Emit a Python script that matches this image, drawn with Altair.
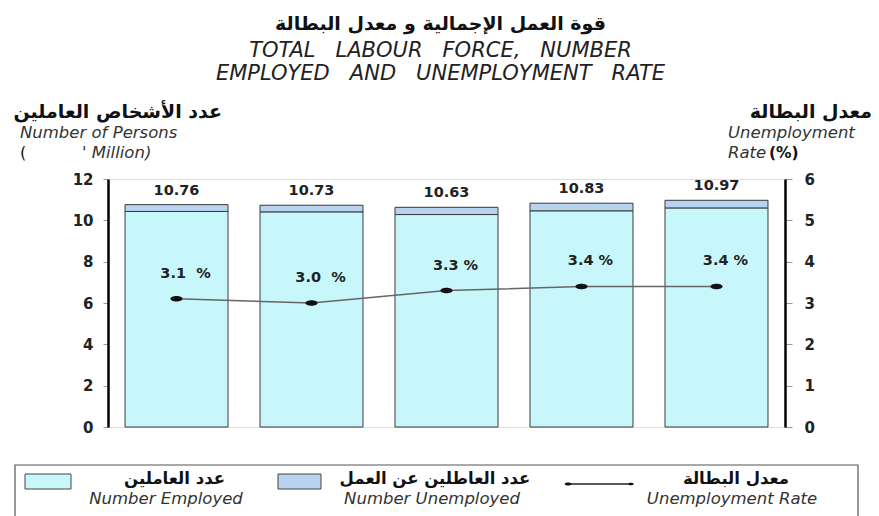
import altair as alt
import pandas as pd

# ---------------- data ----------------
periods = ["2006 Q3", "2006 Q4", "2006", "2007 Q1", "2007 Q2"]
employed = [10.43, 10.41, 10.28, 10.46, 10.60]
unemployed = [0.33, 0.32, 0.35, 0.37, 0.37]
totals = [10.76, 10.73, 10.63, 10.83, 10.97]
rates = [3.1, 3.0, 3.3, 3.4, 3.4]
NB = "\u00a0"
rate_labels = ["3.1" + NB * 2 + "%", "3.0" + NB * 2 + "%", "3.3 %", "3.4 %", "3.4 %"]

left_ticks = [0, 2, 4, 6, 8, 10, 12]
right_ticks = [0, 1, 2, 3, 4, 5, 6]

series_keys = ["Employed", "Unemployed"]
legend_ar = ["عدد العاملين", "عدد العاطلين عن العمل", "معدل البطالة"]
legend_en = ["Number Employed", "Number Unemployed", "Unemployment Rate"]

title_ar = "قوة العمل الإجمالية و معدل البطالة"
title_en_words = [["TOTAL", "LABOUR", "FORCE,", "NUMBER"], ["EMPLOYED", "AND", "UNEMPLOYMENT", "RATE"]]
title_en = [(NB * 3).join(w) for w in title_en_words]

COL_EMP = "#c8f7fb"
COL_UNEMP = "#b8d3f0"
AR_FONT = "DejaVu Sans"
NUM_FONT = "DejaVu Sans"
EN_FONT = "DejaVu Sans"

df = pd.DataFrame({
    "period": periods,
    "total": totals,
    "rate": rates,
    "rate_label": rate_labels,
})
long = pd.concat([
    pd.DataFrame({"period": periods, "value": employed, "type": series_keys[0], "ord": 0}),
    pd.DataFrame({"period": periods, "value": unemployed, "type": series_keys[1], "ord": 1}),
])

xenc = alt.X(
    "period:N", sort=periods, title=None,
    scale=alt.Scale(paddingInner=0.237, paddingOuter=0.126),
    axis=alt.Axis(domain=False, ticks=False, labelAngle=0, labelFont=NUM_FONT,
                  labelFontWeight="bold", labelFontSize=15.5, labelColor="#222",
                  labelPadding=8),
)
xplain = alt.X("period:N", sort=periods, axis=None)

bars = alt.Chart(long).mark_bar(stroke="#3a3a3a", strokeWidth=1).encode(
    x=xenc,
    y=alt.Y("value:Q", stack="zero", title=None,
            scale=alt.Scale(domain=[0, 12], nice=False),
            axis=alt.Axis(values=left_ticks, grid=False, domainColor="#000",
                          domainWidth=2.5, tickColor="#999", tickSize=5,
                          labelFont=NUM_FONT, labelFontWeight="bold",
                          labelFontSize=15, labelColor="#222", labelPadding=10)),
    color=alt.Color("type:N", scale=alt.Scale(domain=series_keys, range=[COL_EMP, COL_UNEMP]),
                    legend=None),
    order=alt.Order("ord:Q"),
)

tot_text = alt.Chart(df).mark_text(
    baseline="bottom", dy=-7, font=NUM_FONT, fontWeight="bold", fontSize=14.5, color="#222"
).encode(
    x=xplain,
    y=alt.Y("total:Q"),
    text=alt.Text("total:Q", format=".2f"),
)

left = alt.layer(bars, tot_text)

yr = alt.Y("rate:Q", title=None, scale=alt.Scale(domain=[0, 6], nice=False),
           axis=alt.Axis(orient="right", values=right_ticks, grid=False, domainColor="#000",
                         domainWidth=2.5, tickColor="#999", tickSize=7,
                         labelFont=NUM_FONT, labelFontWeight="bold", labelFontSize=15,
                         labelColor="#222", labelPadding=12))

rate_line = alt.Chart(df).mark_line(color="#666", strokeWidth=1.5).encode(x=xplain, y=yr)

oval = "M-1,0 A1,0.45 0 1,1 1,0 A1,0.45 0 1,1 -1,0 Z"
rate_pts = alt.Chart(df).mark_point(shape=oval, filled=True, color="#111", size=150, opacity=1).encode(
    x=xplain, y=alt.Y("rate:Q"))

rate_text = alt.Chart(df).mark_text(
    baseline="middle", dy=-25, dx=9, font=NUM_FONT, fontWeight="bold", fontSize=14.5, color="#222"
).encode(x=xplain, y=alt.Y("rate:Q"), text="rate_label:N")

right = alt.layer(rate_line, rate_pts, rate_text)

OX, OY = 108, 179  # plot origin in page pixels


def txt(s, ax, ay, align="left", size=15, weight="normal", style="normal", font=EN_FONT, color="#222"):
    return alt.Chart(alt.Data(values=[{"t": s}])).mark_text(
        align=align, baseline="middle", fontSize=size, fontWeight=weight,
        fontStyle=style, font=font, color=color
    ).encode(x=alt.value(ax - OX), y=alt.value(ay - OY), text="t:N")


def box(x1, y1, x2, y2, fill, stroke="#444", sw=1):
    return alt.Chart(alt.Data(values=[{"t": 1}])).mark_rect(
        fill=fill, stroke=stroke, strokeWidth=sw
    ).encode(x=alt.value(x1 - OX), x2=alt.value(x2 - OX),
             y=alt.value(y1 - OY), y2=alt.value(y2 - OY))


def dot(ax, ay, size):
    return alt.Chart(alt.Data(values=[{"t": 1}])).mark_point(
        shape=oval, filled=True, color="#111", size=size, opacity=1
    ).encode(x=alt.value(ax - OX), y=alt.value(ay - OY))


annotations = [
    # axis titles
    txt("عدد الأشخاص العاملين", 222, 112, align="right", size=19, weight="bold", font=AR_FONT, color="#111"),
    txt("Number of Persons", 20, 133, size=16.5, style="italic", color="#333"),
    txt("(", 20, 153, size=16, color="#111"),
    txt("' Million)", 82, 153, size=16.5, style="italic", color="#333"),
    txt("معدل البطالة", 872, 112, align="right", size=19, weight="bold", font=AR_FONT, color="#111"),
    txt("Unemployment", 728, 133, size=16.5, style="italic", color="#333"),
    txt("Rate", 728, 153, size=16.5, style="italic", color="#333"),
    txt("(%)", 769, 153, size=15.5, weight="bold", color="#111"),
    # legend
    box(15, 465, 858, 530, "transparent", stroke="#555", sw=1.2),
    box(25, 474, 71, 489, COL_EMP),
    box(278, 474, 321, 489, COL_UNEMP),
    txt(legend_ar[0], 225, 479, align="right", size=16.5, weight="bold", font=AR_FONT, color="#111"),
    txt(legend_en[0], 166, 499, align="center", size=16.5, style="italic", color="#333"),
    txt(legend_ar[1], 435, 479, align="center", size=16.5, weight="bold", font=AR_FONT, color="#111"),
    txt(legend_en[1], 432, 499, align="center", size=16.5, style="italic", color="#333"),
    txt(legend_ar[2], 736, 479, align="center", size=16.5, weight="bold", font=AR_FONT, color="#111"),
    txt(legend_en[2], 732, 499, align="center", size=16.5, style="italic", color="#333"),
]

leg_line = alt.Chart(alt.Data(values=[{"t": 1}])).mark_rule(color="#222", strokeWidth=1.5).encode(
    x=alt.value(567 - OX), x2=alt.value(632 - OX), y=alt.value(484 - OY))

chart = alt.layer(left, right, *annotations, leg_line, dot(568, 484, 45), dot(631, 484, 30)).resolve_scale(
    y="independent"
).properties(
    width=677, height=248,
    autosize=alt.AutoSizeParams(type="none"),
    padding={"left": OX, "top": OY, "right": 879 - OX - 677, "bottom": 516 - OY - 248},
    title=alt.TitleParams(
        text=title_ar, subtitle=title_en, anchor="middle", dx=-6, offset=19,
        font=AR_FONT, fontSize=19, fontWeight="bold", color="#111",
        subtitleFont=EN_FONT, subtitleFontStyle="italic", subtitleFontSize=21,
        subtitleLineHeight=23, subtitleColor="#222", subtitlePadding=6,
    ),
).configure_view(stroke="#999", strokeWidth=1).configure(background="white")

chart.save("out.html", embed_options={"renderer": "svg", "actions": False})
